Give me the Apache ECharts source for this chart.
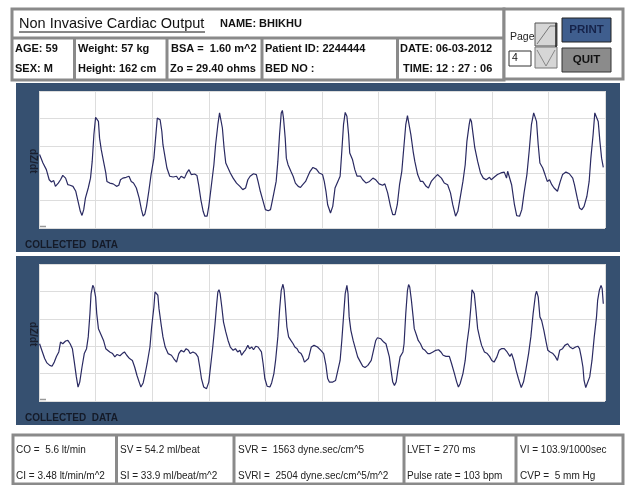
<!DOCTYPE html>
<html>
<head>
<meta charset="utf-8">
<script src="https://cdn.jsdelivr.net/npm/echarts@6/dist/echarts.min.js"></script>
<style>
html,body{margin:0;padding:0;background:#fff;}
#c{width:628px;height:485px;}
</style>
</head>
<body>
<div id="c"></div>
<script>
// ---------- DATA ----------
const titleText = 'Non Invasive Cardiac Output';
const nameText = 'NAME: BHIKHU';
const headerRow1 = ['AGE: 59', 'Weight: 57 kg', 'BSA =  1.60 m^2', 'Patient ID: 2244444', 'DATE: 06-03-2012'];
const headerRow2 = ['SEX: M', 'Height: 162 cm', 'Zo = 29.40 ohms', 'BED NO :', 'TIME: 12 : 27 : 06'];
const resultRow1 = ['CO =  5.6 lt/min', 'SV = 54.2 ml/beat', 'SVR =  1563 dyne.sec/cm^5', 'LVET = 270 ms', 'VI = 103.9/1000sec'];
const resultRow2 = ['CI = 3.48 lt/min/m^2', 'SI = 33.9 ml/beat/m^2', 'SVRI =  2504 dyne.sec/cm^5/m^2', 'Pulse rate = 103 bpm', 'CVP =  5 mm Hg'];
const pageNumber = '4';
const yAxisName = 'dZ/dt';
const panelCaption = 'COLLECTED  DATA';
const xRange = [0, 10, 1];
const yRange = [0, 5, 1];

// dZ/dt waveform, top panel: [time division, amplitude division]
const topWave = [
[0.01,2.68],[0.07,2.37],[0.13,2.13],[0.18,1.76],[0.22,1.68],[0.26,1.73],[0.29,1.52],[0.34,1.64],[0.38,1.76],[0.42,1.92],
[0.47,1.82],[0.51,1.58],[0.55,1.56],[0.60,1.52],[0.65,1.34],[0.69,0.97],[0.73,0.61],[0.76,0.46],[0.79,0.67],[0.82,1.09],
[0.87,1.46],[0.91,1.82],[0.94,2.43],[0.97,3.41],[1.00,4.04],[1.02,4.08],[1.05,3.89],[1.07,3.28],[1.10,2.86],[1.14,2.43],
[1.18,2.01],[1.20,1.70],[1.25,1.64],[1.31,1.61],[1.37,1.52],[1.41,1.56],[1.44,1.76],[1.48,1.82],[1.54,1.85],[1.59,1.89],
[1.63,1.70],[1.67,1.64],[1.72,1.46],[1.77,1.09],[1.81,0.67],[1.84,0.43],[1.87,0.51],[1.90,0.79],[1.94,1.34],[1.98,1.95],
[2.03,2.55],[2.06,3.28],[2.09,4.01],[2.11,4.08],[2.14,3.95],[2.17,3.53],[2.19,3.04],[2.23,2.55],[2.26,2.19],[2.31,1.89],
[2.37,1.86],[2.43,1.89],[2.47,1.76],[2.51,1.89],[2.57,1.82],[2.61,2.01],[2.65,2.13],[2.69,1.95],[2.72,1.89],[2.75,1.97],
[2.79,1.92],[2.82,1.58],[2.86,1.03],[2.90,0.61],[2.93,0.43],[2.97,0.43],[3.00,0.79],[3.04,1.46],[3.09,2.31],[3.12,3.04],
[3.16,3.77],[3.19,4.20],[3.22,4.16],[3.24,3.65],[3.27,2.92],[3.30,2.37],[3.34,2.19],[3.38,2.01],[3.43,1.82],[3.49,1.64],
[3.55,1.52],[3.60,1.40],[3.65,1.46],[3.69,1.76],[3.73,1.89],[3.79,1.98],[3.84,1.95],[3.87,1.70],[3.91,1.34],[3.96,0.97],
[4.00,0.67],[4.05,0.63],[4.09,0.67],[4.12,0.97],[4.15,1.28],[4.19,1.70],[4.22,2.43],[4.25,3.41],[4.28,4.20],[4.30,4.29],
[4.32,4.01],[4.35,3.28],[4.37,2.55],[4.40,2.31],[4.45,2.07],[4.49,1.89],[4.53,1.64],[4.58,1.52],[4.62,1.48],[4.66,1.58],
[4.71,1.70],[4.75,1.89],[4.79,2.07],[4.84,2.21],[4.90,2.15],[4.95,2.01],[5.01,1.95],[5.04,1.70],[5.07,1.34],[5.10,0.85],
[5.15,0.55],[5.19,0.79],[5.23,1.46],[5.28,1.70],[5.32,1.89],[5.35,2.80],[5.38,3.77],[5.41,4.22],[5.44,4.08],[5.47,3.41],
[5.49,2.74],[5.54,2.49],[5.58,2.13],[5.62,1.89],[5.68,1.89],[5.72,1.76],[5.78,1.64],[5.84,1.70],[5.90,1.82],[5.95,1.76],
[6.01,1.61],[6.07,1.56],[6.11,1.61],[6.16,1.28],[6.21,0.79],[6.25,0.49],[6.29,0.49],[6.33,0.85],[6.37,1.58],[6.41,2.07],
[6.44,2.80],[6.48,3.77],[6.51,4.10],[6.54,4.04],[6.57,3.41],[6.61,2.80],[6.64,2.43],[6.69,1.95],[6.74,1.70],[6.78,1.70],
[6.84,1.52],[6.88,1.46],[6.93,1.70],[6.98,1.82],[7.04,1.95],[7.07,2.01],[7.11,1.82],[7.16,1.64],[7.22,1.58],[7.27,1.28],
[7.31,0.85],[7.36,0.43],[7.40,0.61],[7.44,1.09],[7.49,1.70],[7.53,2.31],[7.56,3.16],[7.60,3.77],[7.62,3.99],[7.64,3.89],
[7.67,3.41],[7.70,2.92],[7.75,2.43],[7.80,2.01],[7.85,1.82],[7.90,1.76],[7.96,1.85],[7.99,1.76],[8.04,1.85],[8.10,1.95],
[8.16,2.01],[8.22,2.04],[8.26,1.82],[8.28,2.07],[8.31,2.01],[8.35,1.58],[8.40,0.85],[8.44,0.45],[8.49,0.43],[8.53,0.67],
[8.57,1.28],[8.62,1.95],[8.66,2.80],[8.70,3.77],[8.74,4.20],[8.76,4.26],[8.79,3.89],[8.82,3.04],[8.85,2.37],[8.90,2.19],
[8.94,1.95],[8.98,1.70],[9.02,1.76],[9.06,1.58],[9.10,1.46],[9.16,1.34],[9.21,1.70],[9.25,1.95],[9.31,2.04],[9.37,1.98],
[9.43,1.82],[9.46,1.58],[9.51,1.09],[9.55,0.73],[9.59,0.67],[9.63,0.79],[9.68,1.16],[9.72,1.70],[9.75,2.55],[9.79,3.41],
[9.82,4.20],[9.85,4.26],[9.88,3.89],[9.91,3.16],[9.94,2.55],[9.97,2.21]
];

// dZ/dt waveform, bottom panel
const bottomWave = [
[0.01,2.09],[0.06,1.79],[0.10,1.55],[0.14,1.39],[0.19,1.30],[0.23,1.27],[0.27,1.42],[0.31,1.63],[0.35,1.79],[0.38,2.15],
[0.42,2.09],[0.47,2.19],[0.51,2.21],[0.55,2.09],[0.59,1.91],[0.62,1.48],[0.66,0.88],[0.69,0.51],[0.72,0.69],[0.76,1.24],
[0.80,1.73],[0.84,1.91],[0.87,2.34],[0.90,3.19],[0.92,3.92],[0.95,4.22],[0.97,4.14],[1.00,3.80],[1.02,3.19],[1.05,2.64],
[1.10,2.40],[1.14,2.21],[1.18,1.91],[1.21,1.85],[1.25,1.79],[1.30,1.73],[1.34,1.61],[1.38,1.70],[1.43,1.65],[1.47,1.73],
[1.51,1.79],[1.55,1.67],[1.60,1.55],[1.65,1.48],[1.69,1.24],[1.73,0.94],[1.77,0.69],[1.80,0.51],[1.84,0.66],[1.87,0.94],
[1.91,1.36],[1.96,1.97],[1.99,2.70],[2.03,3.43],[2.05,3.98],[2.07,4.01],[2.10,3.86],[2.12,3.37],[2.16,2.76],[2.19,2.34],
[2.23,1.97],[2.28,1.73],[2.34,1.67],[2.38,1.55],[2.43,1.42],[2.47,1.73],[2.51,1.85],[2.56,1.79],[2.60,1.91],[2.64,1.85],
[2.67,1.73],[2.72,1.79],[2.77,1.73],[2.81,1.61],[2.84,1.24],[2.87,0.82],[2.91,0.51],[2.96,0.45],[3.00,0.69],[3.03,1.24],
[3.07,1.97],[3.11,2.82],[3.14,3.55],[3.16,3.98],[3.18,4.06],[3.20,3.92],[3.23,3.43],[3.26,2.88],[3.30,2.52],[3.34,2.21],
[3.38,1.97],[3.43,1.85],[3.47,1.91],[3.51,1.79],[3.55,1.85],[3.58,1.67],[3.62,1.79],[3.65,1.87],[3.69,2.03],[3.72,1.91],
[3.76,1.97],[3.79,1.87],[3.83,2.00],[3.87,1.97],[3.90,2.03],[3.93,1.79],[3.96,1.36],[3.99,0.82],[4.03,0.54],[4.08,0.51],
[4.11,0.66],[4.15,1.00],[4.18,1.48],[4.22,2.34],[4.25,3.31],[4.28,4.04],[4.31,4.26],[4.33,4.06],[4.35,3.55],[4.38,2.70],
[4.41,2.34],[4.45,2.21],[4.49,2.09],[4.52,1.97],[4.56,1.91],[4.59,1.79],[4.63,1.73],[4.66,1.61],[4.69,1.42],[4.72,1.36],
[4.76,1.55],[4.81,1.97],[4.86,2.03],[4.92,1.97],[4.98,1.85],[5.03,1.73],[5.07,1.30],[5.10,0.82],[5.13,0.69],[5.19,0.69],
[5.24,0.75],[5.28,1.12],[5.32,1.48],[5.35,2.21],[5.38,3.07],[5.41,3.92],[5.44,4.22],[5.46,3.92],[5.48,3.07],[5.51,2.58],
[5.55,2.21],[5.59,1.91],[5.63,1.61],[5.68,1.42],[5.72,1.27],[5.76,1.22],[5.81,1.30],[5.87,1.48],[5.91,1.85],[5.95,2.21],
[5.98,2.31],[6.04,2.27],[6.09,2.15],[6.13,2.09],[6.16,2.03],[6.19,1.61],[6.22,1.12],[6.25,0.69],[6.28,0.57],[6.31,0.69],
[6.34,1.12],[6.38,1.61],[6.43,1.79],[6.45,2.09],[6.48,3.19],[6.51,4.04],[6.53,4.25],[6.55,4.16],[6.58,3.67],[6.61,3.07],
[6.63,2.64],[6.67,2.40],[6.70,2.21],[6.74,2.09],[6.78,1.91],[6.82,1.85],[6.87,1.73],[6.91,1.73],[6.96,1.79],[7.01,1.85],
[7.06,1.87],[7.10,1.79],[7.14,1.67],[7.19,1.63],[7.25,1.63],[7.29,1.36],[7.34,1.00],[7.38,0.69],[7.41,0.51],[7.44,0.63],
[7.49,1.00],[7.53,1.48],[7.56,2.09],[7.60,2.70],[7.63,3.43],[7.65,4.06],[7.67,4.10],[7.69,3.92],[7.72,3.31],[7.75,2.64],
[7.79,2.27],[7.82,2.03],[7.87,1.79],[7.92,1.73],[7.96,1.63],[8.00,1.48],[8.04,1.42],[8.09,1.61],[8.13,1.85],[8.17,1.91],
[8.22,1.91],[8.27,1.79],[8.32,1.63],[8.35,1.73],[8.39,1.48],[8.43,1.12],[8.47,0.82],[8.52,0.49],[8.56,0.69],[8.60,1.12],
[8.65,1.73],[8.69,2.34],[8.73,3.19],[8.77,3.86],[8.79,4.01],[8.82,3.80],[8.85,3.07],[8.88,2.94],[8.92,2.58],[8.96,2.15],
[8.99,1.85],[9.03,1.79],[9.08,1.73],[9.12,1.63],[9.16,1.48],[9.20,1.85],[9.25,1.91],[9.29,2.03],[9.34,2.09],[9.38,1.97],
[9.43,1.91],[9.48,1.97],[9.52,2.00],[9.55,1.91],[9.58,1.61],[9.61,1.24],[9.63,0.75],[9.66,0.49],[9.69,0.51],[9.73,0.88],
[9.77,1.48],[9.81,2.34],[9.85,3.07],[9.87,3.67],[9.90,4.04],[9.93,4.22],[9.95,4.10],[9.97,3.55]
];

// ---------- LAYOUT / STYLE ----------
const FONT = '"Liberation Sans", Arial, sans-serif';
const GRAY = '#8a8a8a';
const BLUE = '#365070';
const LINE = '#2a2a62';
const plots = [{top: 91, panelTop: 83}, {top: 264, panelTop: 256}];
const plotLeft = 39, plotW = 566, plotH = 137;

function txt(x, y, s, opt) {
  opt = opt || {};
  return {
    type: 'text', x: x, y: y, z: 20, rotation: opt.rotation || 0,
    style: {
      text: s, fill: opt.fill || '#111',
      font: (opt.weight || 'normal') + ' ' + (opt.size || 11) + 'px ' + FONT,
      align: opt.align || 'left', verticalAlign: 'middle'
    }
  };
}
function rect(x, y, w, h, fill, stroke, lw, z) {
  return {type: 'rect', z: z == null ? -5 : z, shape: {x: x, y: y, width: w, height: h},
    style: {fill: fill || 'none', stroke: stroke || null, lineWidth: lw || 0}};
}
function line(x1, y1, x2, y2, stroke, lw, z) {
  return {type: 'line', z: z == null ? 5 : z, shape: {x1: x1, y1: y1, x2: x2, y2: y2},
    style: {stroke: stroke, lineWidth: lw}};
}

const g = [];
// header box
g.push(rect(12, 9, 492, 71, '#fff', GRAY, 3, 1));
g.push(line(12, 38, 504, 38, GRAY, 3));
[74.5, 167, 262, 397.5].forEach(x => g.push(line(x, 38, x, 80, GRAY, 3)));
g.push(txt(19, 24, titleText, {size: 14.5}));
g.push(line(19, 32, 205, 32, '#111', 1, 21));
g.push(txt(220, 24, nameText, {weight: 'bold', size: 11}));
const colX1 = [15, 78, 171, 265, 400];
const colX2 = [15, 78, 170, 265, 403];
headerRow1.forEach((s, i) => g.push(txt(colX1[i], 49, s, {weight: 'bold', size: 11})));
headerRow2.forEach((s, i) => g.push(txt(colX2[i], 69, s, {weight: 'bold', size: 11})));

// right control box
g.push(rect(504, 9, 119, 70, '#fff', GRAY, 3, 1));
g.push(txt(510, 37, 'Page', {size: 10.5, fill: '#222'}));
g.push(rect(535, 23, 22, 23, '#d6d6d6', '#555', 1, 2));
g.push(rect(535, 47, 22, 21, '#d6d6d6', '#777', 1, 2));
g.push({type: 'polyline', z: 6, shape: {points: [[537, 44], [550, 26], [556, 26]]}, style: {stroke: '#777', lineWidth: 1, fill: null}});
g.push({type: 'polyline', z: 6, shape: {points: [[537, 50], [546, 66], [555, 50]]}, style: {stroke: '#888', lineWidth: 1, fill: null}});
g.push(line(556, 23, 556, 47, '#222', 1.5, 7));
g.push(rect(509, 51, 22, 15, '#fff', '#333', 1, 2));
g.push(txt(512, 58.5, pageNumber, {size: 10.5}));
g.push(rect(562, 18, 49, 24, '#3f5e8e', '#222', 1, 2));
g.push(txt(586.5, 30, 'PRINT', {weight: 'bold', size: 11.5, align: 'center', fill: '#16234a'}));
g.push(rect(562, 48, 49, 24, '#8b8b8b', '#333', 1, 2));
g.push(txt(586.5, 60, 'QUIT', {weight: 'bold', size: 11.5, align: 'center', fill: '#111'}));

// waveform panels
plots.forEach(p => {
  g.push(rect(16, p.panelTop, 604, 169, BLUE, null, 0, -10));
  g.push(rect(plotLeft, p.top, plotW, plotH, '#fff', null, 0, -9));
  g.push(txt(33, p.top + 70, yAxisName, {weight: 'bold', size: 10, rotation: -Math.PI / 2, align: 'center', fill: '#1a1f2e'}));
  g.push(line(plotLeft + 1, p.top + plotH - 1.5, plotLeft + 7, p.top + plotH - 1.5, '#999', 1.5));
  g.push(txt(25, p.top + 154, panelCaption, {weight: 'bold', size: 10, fill: '#141a28'}));
});

// results table
g.push(rect(13, 435, 610, 49, '#fff', GRAY, 3, 1));
[116.5, 234, 404, 516].forEach(x => g.push(line(x, 435, x, 484, GRAY, 3)));
const resX = [16, 120, 238, 407, 520];
resultRow1.forEach((s, i) => g.push(txt(resX[i], 450, s, {size: 10, fill: '#222'})));
resultRow2.forEach((s, i) => g.push(txt(resX[i], 476, s, {size: 10, fill: '#222'})));

const grids = plots.map(p => ({left: plotLeft, top: p.top, width: plotW, height: plotH, show: false}));
const axisCommon = {
  type: 'value', axisLine: {show: false}, axisTick: {show: false}, axisLabel: {show: false},
  splitLine: {show: true, lineStyle: {color: '#dddddd', width: 1}}
};
const xAxes = plots.map((p, i) => Object.assign({}, axisCommon, {gridIndex: i, min: xRange[0], max: xRange[1], interval: xRange[2]}));
const yAxes = plots.map((p, i) => Object.assign({}, axisCommon, {gridIndex: i, min: yRange[0], max: yRange[1], interval: yRange[2]}));
const waves = [topWave, bottomWave];
const series = waves.map((d, i) => ({
  type: 'line', xAxisIndex: i, yAxisIndex: i, data: d, showSymbol: false, symbol: 'none',
  lineStyle: {color: LINE, width: 1.2}, animation: false, z: 10
}));

const chart = echarts.init(document.getElementById('c'), null, {renderer: 'canvas'});
chart.setOption({
  animation: false,
  backgroundColor: '#fff',
  grid: grids, xAxis: xAxes, yAxis: yAxes, series: series,
  graphic: {elements: g}
});
</script>
</body>
</html>
